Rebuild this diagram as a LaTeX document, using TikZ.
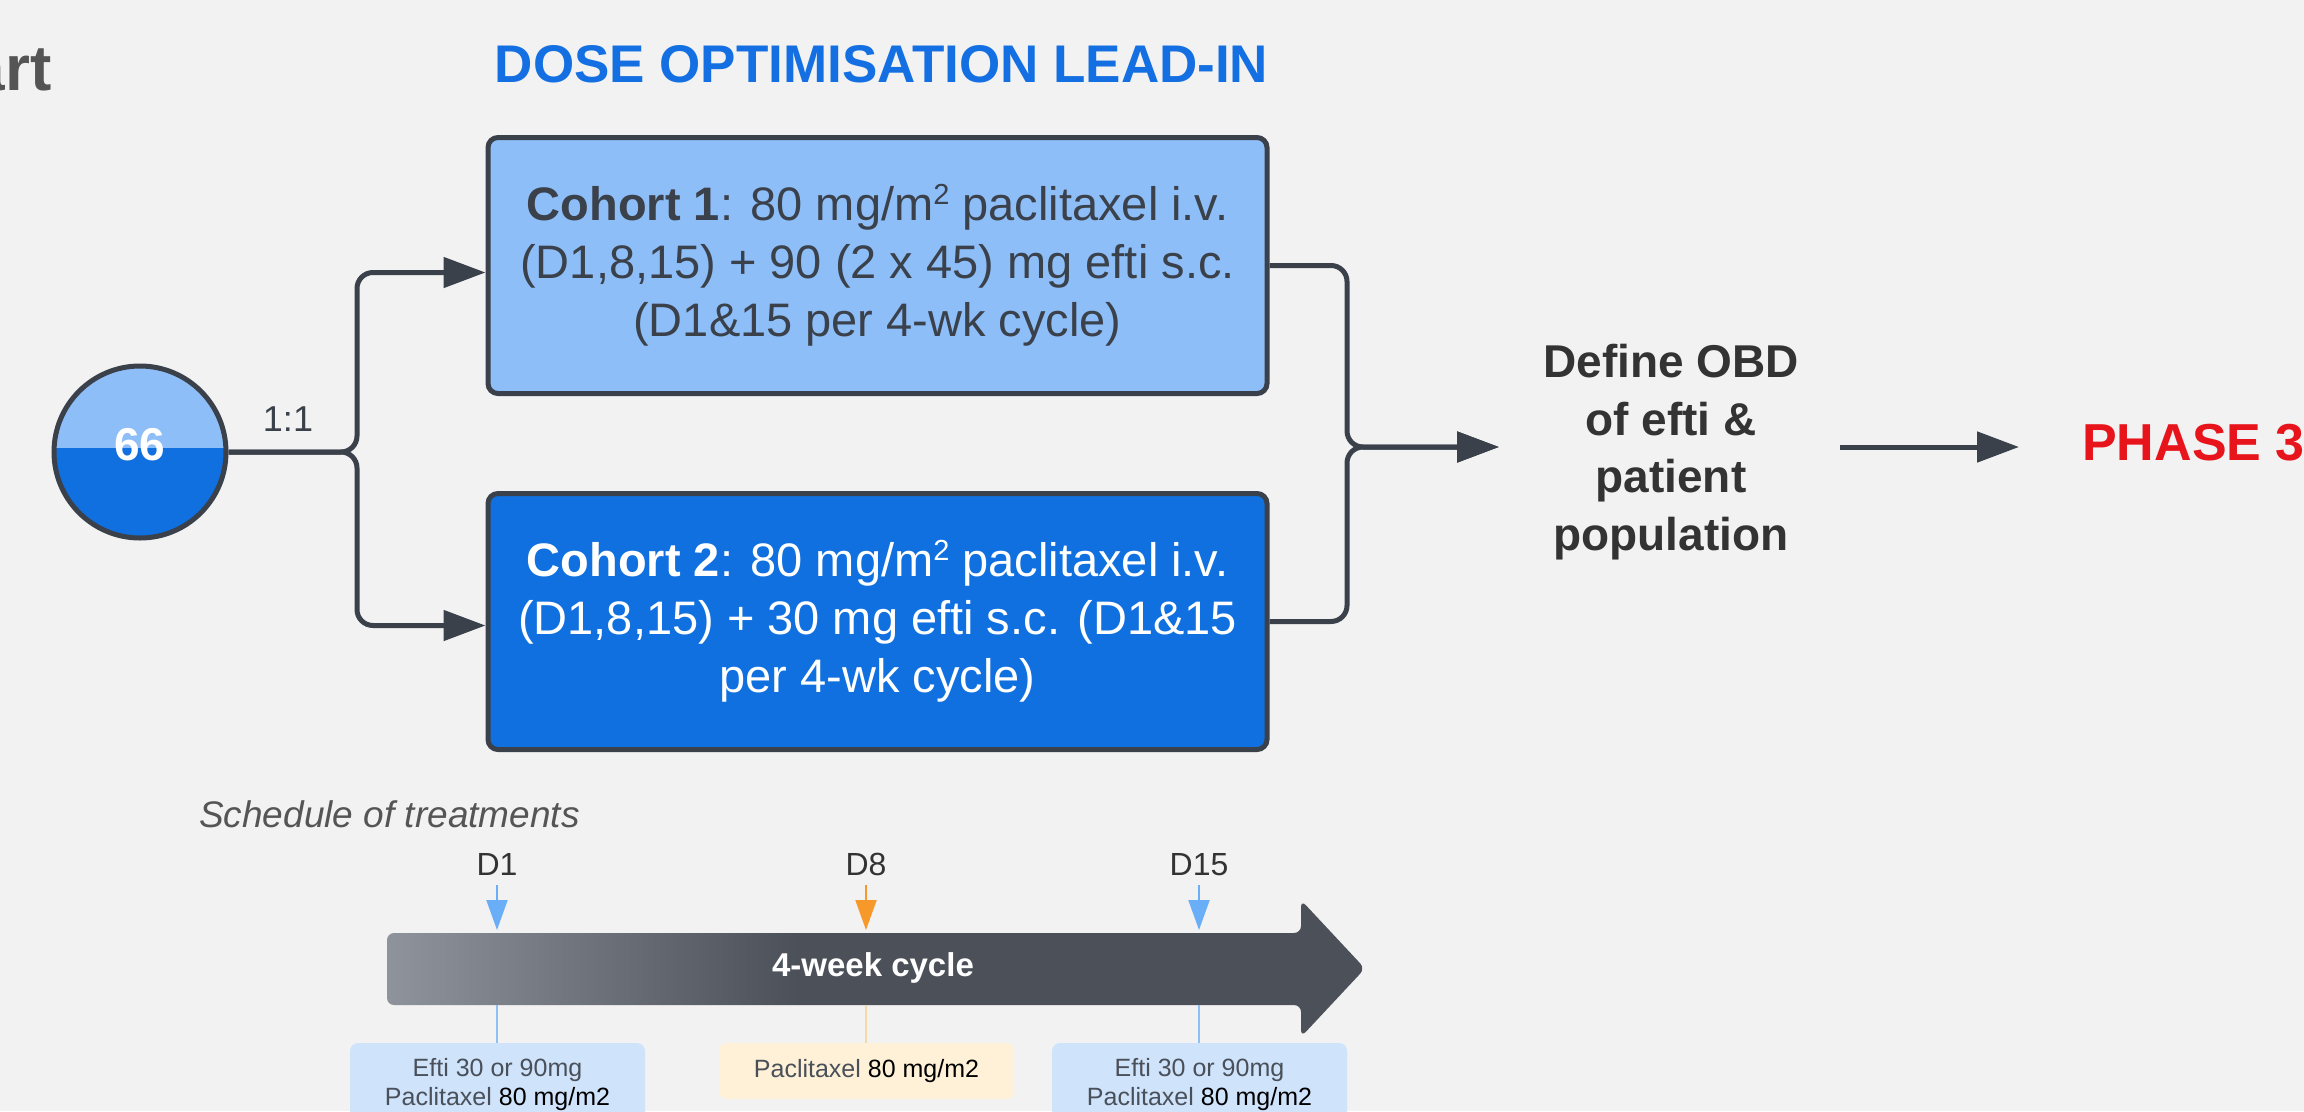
\documentclass[tikz,border=0pt]{standalone}
\usepackage{fontspec}
\setmainfont{Liberation Sans}
\usetikzlibrary{arrows.meta}

\definecolor{bg}{HTML}{F2F2F2}
\definecolor{ink}{HTML}{3A414B}
\definecolor{darktext}{HTML}{333333}
\definecolor{lightblue}{HTML}{8EBEF8}
\definecolor{deepblue}{HTML}{1070E0}
\definecolor{titleblue}{HTML}{1470E2}
\definecolor{phasered}{HTML}{E8141C}
\definecolor{greytext}{HTML}{555555}
\definecolor{dayblue}{HTML}{6AAEF7}
\definecolor{dayorange}{HTML}{F7982B}
\definecolor{tickblue}{HTML}{8EC0F5}
\definecolor{tickorange}{HTML}{F6D9A8}
\definecolor{eftifill}{HTML}{CFE3FB}
\definecolor{paclifill}{HTML}{FEF1D8}
\definecolor{slate}{HTML}{4A5059}
\definecolor{cyclelight}{HTML}{8E939C}
\definecolor{cycledark}{HTML}{4C5159}

% left-to-right shading of the cycle arrow (the path spans 25bp..75bp)
\pgfdeclarehorizontalshading{cycleshade}{100bp}{color(0bp)=(cyclelight); color(25bp)=(cyclelight); color(46bp)=(cycledark); color(100bp)=(cycledark)}

% raised "2" for m^2
\newcommand\sqtwo{\raisebox{16pt}{\fontsize{29}{29}\selectfont 2}}

\tikzset{
  connector/.style={draw=ink, line width=5pt, rounded corners=16pt},
  tip/.style={-{Triangle[length=42pt,width=30pt]}},
  cohort/.style={draw=ink, line width=5pt, rounded corners=10pt,
    minimum width=779pt, minimum height=256pt, inner sep=0pt,
    align=center, font=\fontsize{47}{58}\selectfont},
  day/.style={anchor=base, inner sep=0pt, text=darktext,
    font=\fontsize{32}{32}\selectfont},
  dayarrow/.style={line width=2pt, -{Triangle[length=30pt,width=21pt]}},
  tick/.style={line width=1.5pt},
  dosebox/.style={rounded corners=8pt, minimum width=295pt, inner sep=0pt,
    align=center, text=slate, font=\fontsize{25}{29}\selectfont},
}

\begin{document}
\begin{tikzpicture}[x=1pt,y=-1pt]
\useasboundingbox (0,0) rectangle (2304,1111);
\fill[bg] (0,0) rectangle (2304,1111);
\clip (0,0) rectangle (2304,1111);

% heading pieces
\node[anchor=base east, inner sep=0pt, text=greytext,
      font=\fontsize{64}{64}\selectfont\bfseries] (chart) at (52,90) {Chart};
\node[anchor=base, inner sep=0pt, text=titleblue,
      font=\fontsize{53}{53}\selectfont\bfseries] (title) at (881.5,82)
      {DOSE OPTIMISATION LEAD-IN};

% patient pool, split 1:1
\node[circle, minimum size=172pt, inner sep=0pt, draw=ink, line width=5pt,
      fill=deepblue,
      path picture={\fill[lightblue] (path picture bounding box.north west)
        rectangle ([yshift=4pt]path picture bounding box.east);}]
      (pool) at (140,452) {};
\node[text=white, inner sep=0pt, font=\fontsize{46}{46}\selectfont\bfseries]
      (poolsize) at ([yshift=7pt]pool.center) {66};
\node[text=ink, inner sep=0pt, font=\fontsize{36}{36}\selectfont]
      (ratio) at (288,419) {1:1};

% cohorts
\node[cohort, fill=lightblue, text=ink] (c1) at (877.5,265.5)
  {\textbf{Cohort 1}: 80 mg/m\sqtwo{} paclitaxel i.v.\\
   (D1,8,15) + 90 (2 x 45) mg efti s.c.\\
   (D1\&15 per 4-wk cycle)};
\node[cohort, fill=deepblue, text=white] (c2) at (877.5,621.5)
  {\textbf{Cohort 2}: 80 mg/m\sqtwo{} paclitaxel i.v.\\
   (D1,8,15) + 30 mg efti s.c. (D1\&15\\
   per 4-wk cycle)};

% outcome and next phase
\node[align=center, inner sep=0pt, text=darktext,
      font=\fontsize{46}{57.5}\selectfont\bfseries] (obd) at (1671,452)
  {Define OBD\\of efti \&\\patient\\population};
\node[anchor=base west, inner sep=0pt, text=phasered,
      font=\fontsize{52}{52}\selectfont\bfseries] (phase) at (2082,460)
  {PHASE 3};

% randomisation branches
\coordinate (split) at (357,452);
\draw[connector, tip] (pool.east) -- (split) |- ([yshift=-7pt]c1.west);
\draw[connector, tip] (pool.east) -- (split) |- ([yshift=-4pt]c2.west);

% merge into the outcome
\coordinate (merge) at (1347,447);
\draw[connector, tip, shorten >=44pt] (c1.east) -| (merge) -- (merge -| obd.west);
\draw[connector, tip, shorten >=44pt] (c2.east) -| (merge) -- (merge -| obd.west);
\draw[connector, tip, shorten <=41pt, shorten >=63pt]
  (merge -| obd.east) -- (merge -| phase.west);

% schedule of treatments
\node[anchor=base west, inner sep=0pt, text=greytext,
      font=\fontsize{37}{37}\selectfont\itshape] (sched) at (199,827)
  {Schedule of treatments};

\coordinate (cycletop) at (387,933);
\coordinate (cyclebot) at (387,1005);
\shade[shading=cycleshade, rounded corners=7pt]
  (387,933) -- (1301,933) -- (1301,900) -- (1365,968.5) -- (1301,1037)
  -- (1301,1005) -- (387,1005) -- cycle;
\node[text=white, inner sep=0pt, font=\fontsize{33}{33}\selectfont\bfseries]
  (cyclelabel) at (873,968) {4-week cycle};

\node[day] (d1) at (497,875) {D1};
\node[day] (d8) at (866,875) {D8};
\node[day] (d15) at (1199,875) {D15};

\draw[dayarrow, dayblue] ([yshift=-10pt]d1.base) -- ([yshift=3pt]d1.base |- cycletop);
\draw[dayarrow, dayorange] ([yshift=-10pt]d8.base) -- ([yshift=3pt]d8.base |- cycletop);
\draw[dayarrow, dayblue] ([yshift=-10pt]d15.base) -- ([yshift=3pt]d15.base |- cycletop);

\node[dosebox, fill=eftifill, minimum height=84pt] (dose1) at (497.5,1085)
  {Efti 30 or 90mg\\Paclitaxel {\color{black}80 mg/m2}};
\node[dosebox, fill=paclifill, minimum height=56pt] (dose8) at (866.5,1071)
  {Paclitaxel {\color{black}80 mg/m2}};
\node[dosebox, fill=eftifill, minimum height=84pt] (dose15) at (1199.5,1085)
  {Efti 30 or 90mg\\Paclitaxel {\color{black}80 mg/m2}};

\draw[tick, tickblue] (d1.base |- cyclebot) -- (d1.base |- dose1.north);
\draw[tick, tickorange] (d8.base |- cyclebot) -- (d8.base |- dose8.north);
\draw[tick, tickblue] (d15.base |- cyclebot) -- (d15.base |- dose15.north);
\end{tikzpicture}
\end{document}
